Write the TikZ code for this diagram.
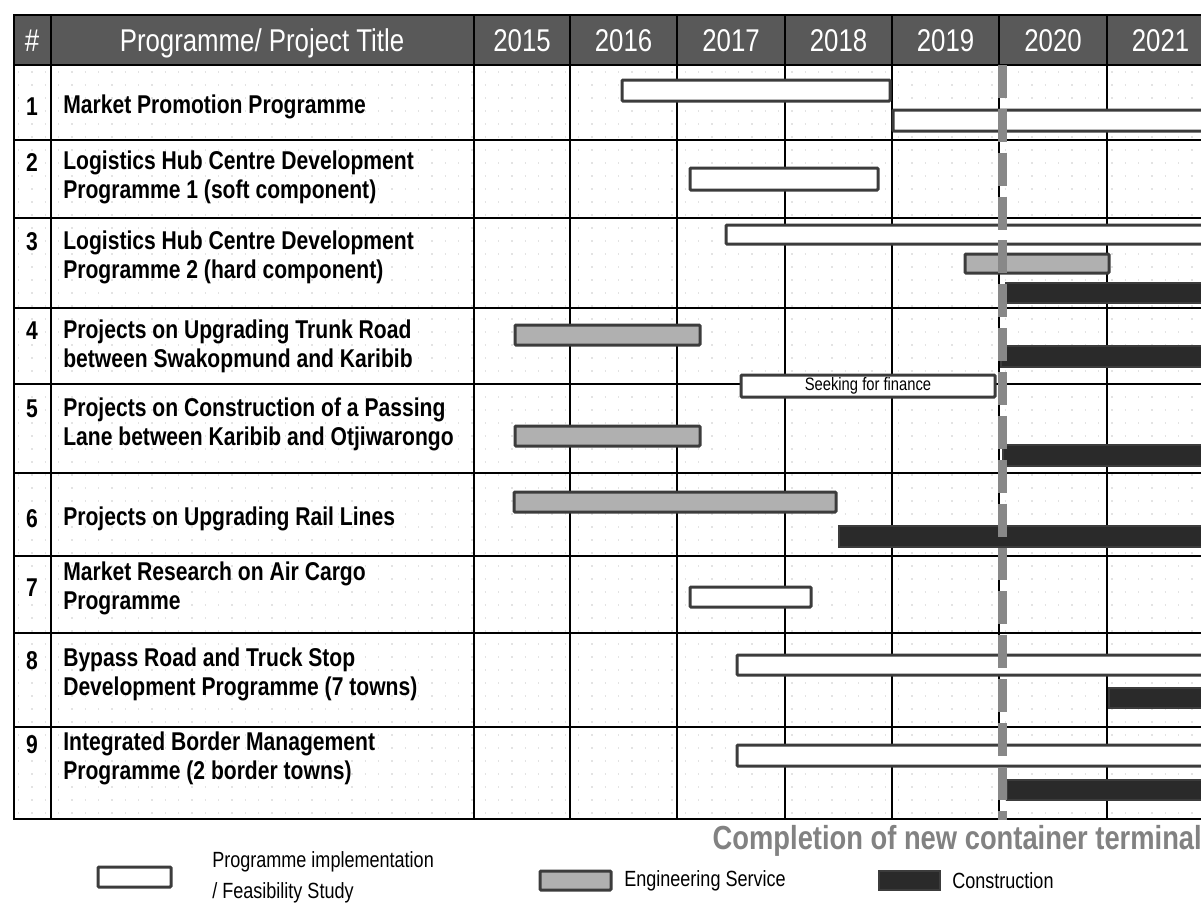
\documentclass[tikz,border=0pt]{standalone}
\usepackage{fontspec}
\setmainfont[FakeStretch=0.82]{Liberation Sans}
\definecolor{headgray}{RGB}{89,89,89}
\definecolor{barline}{RGB}{60,60,60}
\definecolor{enggray}{RGB}{176,176,176}
\definecolor{constdark}{RGB}{42,42,42}
\definecolor{milegray}{RGB}{136,136,136}
\definecolor{notegray}{RGB}{130,130,130}

\begin{document}
\begin{tikzpicture}[
    x=0.75pt, y=-0.75pt,
    implbar/.style={draw=barline, line width=2.25pt, fill=white, rounded corners=0.8pt},
    engbar/.style={draw=barline, line width=2.25pt, fill=enggray, rounded corners=0.8pt},
    constbar/.style={draw=barline, line width=1.5pt, fill=constdark},
    gridline/.style={line width=1.1pt, draw=black},
    dotrow/.style={draw=black!11, line width=1pt, dash pattern=on 1pt off 9pt},
    milestone/.style={draw=milegray, line width=6.75pt, dash pattern=on 24.7pt off 8.2pt},
    headtext/.style={text=white, anchor=base, inner sep=0pt, font=\fontsize{23.6}{26}\selectfont},
    numtext/.style={inner sep=0pt, font=\bfseries\fontsize{19.3}{22}\selectfont},
    titletext/.style={anchor=west, align=left, inner sep=0pt, font=\bfseries\fontsize{19.3}{21.8}\selectfont},
    legendtext/.style={anchor=west, align=left, inner sep=0pt, font=\fontsize{16.5}{23.5}\selectfont}
]
    \useasboundingbox (0,0) rectangle (1201,908);
    \clip (0,0) rectangle (1201,908);

    % Faint dotted background
    \foreach \y in {72,85,...,815}
        \draw[dotrow] (18,\y) -- (1214,\y);

    % Header band
    \fill[headgray] (14,15) rectangle (1214,65);

    % Table grid
    \foreach \y in {65,140,218,308,384,473,556,633,727}
        \draw[gridline] (14,\y) -- (1214,\y);
    \foreach \x in {51,474,570,677,785,892,999,1107}
        \draw[gridline] (\x,15) -- (\x,819);
    \draw[line width=1.5pt] (14,15) rectangle (1214,819);

    % Header texts
    \node[headtext] (hnum) at (32,51.5) {\#};
    \node[headtext] (htitle) at (262,51.5) {Programme/ Project Title};
    \foreach \yr/\xc in {2015/522,2016/623.5,2017/731,2018/838.5,2019/945.5,2020/1053,2021/1160.5}
        \node[headtext] (h\yr) at (\xc,51.5) {\yr};

    % Row numbers
    \foreach \n/\yc in {1/107,2/163,3/242,4/331,5/409,6/519,7/588,8/661,9/745}
        \node[numtext] (n\n) at (32,\yc) {\n};

    % Row titles
    \node[titletext] (t1) at (63,107) {Market Promotion Programme};
    \node[titletext] (t2) at (63,177) {Logistics Hub Centre Development\\Programme 1 (soft component)};
    \node[titletext] (t3) at (63,257) {Logistics Hub Centre Development\\Programme 2 (hard component)};
    \node[titletext] (t4) at (63,346) {Projects on Upgrading Trunk Road\\between Swakopmund and Karibib};
    \node[titletext] (t5) at (63,424.5) {Projects on Construction of a Passing\\Lane between Karibib and Otjiwarongo};
    \node[titletext] (t6) at (63,519) {Projects on Upgrading Rail Lines};
    \node[titletext] (t7) at (63,588.5) {Market Research on Air Cargo\\Programme};
    \node[titletext] (t8) at (63,674.5) {Bypass Road and Truck Stop\\Development Programme (7 towns)};
    \node[titletext] (t9) at (63,758.5) {Integrated Border Management\\Programme (2 border towns)};

    % Programme implementation / feasibility bars
    \draw[implbar] (622,80) rectangle (890,101);
    \draw[implbar] (893,110) rectangle (1225,131);
    \draw[implbar] (690,168) rectangle (878,190);
    \draw[implbar] (726,225) rectangle (1225,244);
    \draw[implbar] (741,375) rectangle (995,397);
    \draw[implbar] (690,587) rectangle (811,607);
    \draw[implbar] (737,655) rectangle (1225,675);
    \draw[implbar] (737,745) rectangle (1225,766);
    \node[font=\fontsize{13.5}{15}\selectfont, inner sep=0pt] (finance) at (868,386) {Seeking for finance};

    % Engineering service bars
    \draw[engbar] (965,254) rectangle (1109,273);
    \draw[engbar] (515,325) rectangle (700,345);
    \draw[engbar] (515,426) rectangle (700,446);
    \draw[engbar] (514,492) rectangle (836,512);

    % Construction bars
    \draw[constbar] (1006,283) rectangle (1225,303);
    \draw[constbar] (1001,346) rectangle (1225,367);
    \draw[constbar] (1003,445) rectangle (1225,466);
    \draw[constbar] (839,526) rectangle (1225,547);
    \draw[constbar] (1109,688) rectangle (1225,708);
    \draw[constbar] (1007,780) rectangle (1225,800);

    % Milestone: new container terminal
    \draw[milestone] (1002,65) -- (1002,820);
    \node[anchor=east, inner sep=0pt, text=notegray, font=\bfseries\fontsize{25}{28}\selectfont] (terminal) at (1202,841) {Completion of new container terminal};

    % Legend
    \draw[implbar] (98,867) rectangle (171,887);
    \node[legendtext] (limpl) at (212,877.5) {Programme implementation\\/ Feasibility Study};
    \draw[engbar] (540,871) rectangle (611,890);
    \node[legendtext] (leng) at (624,881) {Engineering Service};
    \draw[constbar] (879,871) rectangle (940,890);
    \node[legendtext] (lconst) at (952,881) {Construction};
\end{tikzpicture}
\end{document}
